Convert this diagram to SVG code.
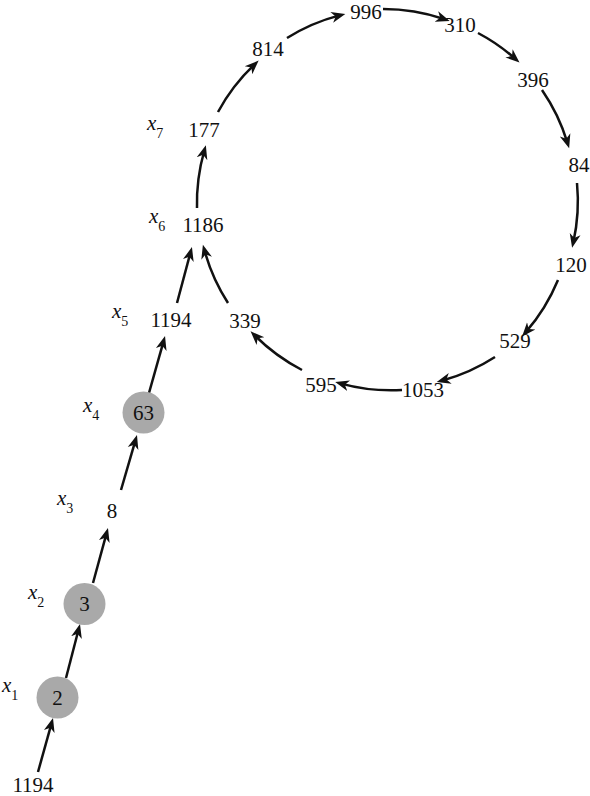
<svg xmlns="http://www.w3.org/2000/svg" width="590" height="796" viewBox="0 0 590 796">
<style>
.n{font-family:"Liberation Serif","Times New Roman",serif;font-size:21px;fill:#111;text-anchor:middle}
.l{font-family:"Liberation Serif","Times New Roman",serif;font-size:21px;font-style:italic;fill:#111}
.s{font-size:14px;font-style:normal}
.c{fill:#a9a9a9;stroke:none}
.e{fill:none;stroke:#111;stroke-width:2.5;marker-end:url(#ah)}
</style>
<defs>
<marker id="ah" markerUnits="userSpaceOnUse" markerWidth="16" markerHeight="14" viewBox="0 -7 16 14" refX="8" refY="0" orient="auto">
<path d="M0,-5.5 L14,0 L0,5.5 L4,0 Z" fill="#111"/>
</marker>
</defs>
<rect width="590" height="796" fill="#fff"/>
<g id="connectors">
<path class="e" d="M38,772 L51.4,723.8"/>
<path class="e" d="M66,678 L78.5,629.8"/>
<path class="e" d="M93,583 L106.4,533.8"/>
<path class="e" d="M121,490 L135.3,440.8"/>
<path class="e" d="M149,393 L163.4,341.8"/>
<path class="e" d="M177,303 L190.4,252.8"/>
<path class="e" d="M228,303 A190,190 0 0 1 204.5,250.5"/>
<path class="e" d="M197,208 A190,190 0 0 1 204.2,151"/>
<path class="e" d="M218,112 A190,190 0 0 1 254.3,64.7"/>
<path class="e" d="M287,38 A190,190 0 0 1 339.5,15.4"/>
<path class="e" d="M383,9 A190,190 0 0 1 444,19"/>
<path class="e" d="M478,33 A190,190 0 0 1 515,58.6"/>
<path class="e" d="M542,90 A190,190 0 0 1 567.4,142.6"/>
<path class="e" d="M577,183 A190,190 0 0 1 573.4,242"/>
<path class="e" d="M558,280 A190,190 0 0 1 526,331.9"/>
<path class="e" d="M495,357 A190,190 0 0 1 442.5,380.5"/>
<path class="e" d="M402,390 A190,190 0 0 1 341,383.6"/>
<path class="e" d="M302,370 A190,190 0 0 1 254.8,335.5"/>
</g>
<g id="n1194a"><text class="n" x="33" y="792">1194</text></g>
<g id="n2"><circle class="c" cx="57.5" cy="697.5" r="21"/><text class="n" x="57.5" y="705">2</text></g>
<g id="n3"><circle class="c" cx="84.5" cy="604" r="21"/><text class="n" x="84.5" y="611">3</text></g>
<g id="n8"><text class="n" x="112" y="518">8</text></g>
<g id="n63"><circle class="c" cx="143.5" cy="412.5" r="21"/><text class="n" x="143.5" y="420">63</text></g>
<g id="n1194b"><text class="n" x="171" y="327">1194</text></g>
<g id="n1186"><text class="n" x="203" y="232">1186</text></g>
<g id="n177"><text class="n" x="204" y="137">177</text></g>
<g id="n814"><text class="n" x="268" y="56">814</text></g>
<g id="n996"><text class="n" x="366" y="19">996</text></g>
<g id="n310"><text class="n" x="460" y="32">310</text></g>
<g id="n396"><text class="n" x="533" y="87">396</text></g>
<g id="n84"><text class="n" x="579" y="172">84</text></g>
<g id="n120"><text class="n" x="571" y="272">120</text></g>
<g id="n529"><text class="n" x="515" y="348">529</text></g>
<g id="n1053"><text class="n" x="423" y="397">1053</text></g>
<g id="n595"><text class="n" x="321" y="392">595</text></g>
<g id="n339"><text class="n" x="245" y="328">339</text></g>
<g id="labels">
<text class="l" x="2" y="692">x<tspan class="s" dy="8">1</tspan></text>
<text class="l" x="28" y="599">x<tspan class="s" dy="8">2</tspan></text>
<text class="l" x="57" y="505">x<tspan class="s" dy="8">3</tspan></text>
<text class="l" x="83" y="412">x<tspan class="s" dy="8">4</tspan></text>
<text class="l" x="112" y="318">x<tspan class="s" dy="8">5</tspan></text>
<text class="l" x="149" y="223">x<tspan class="s" dy="8">6</tspan></text>
<text class="l" x="147" y="130">x<tspan class="s" dy="8">7</tspan></text>
</g>
</svg>
